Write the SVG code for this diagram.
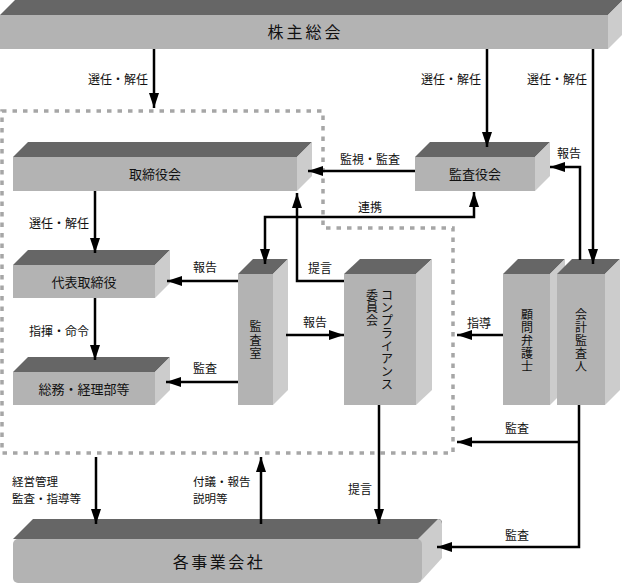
<svg xmlns="http://www.w3.org/2000/svg" width="622" height="584" viewBox="0 0 622 584">
<style>
.top{fill:#666666}
.front{fill:#b3b3b3}
.side{fill:#cccccc}
text{font-family:"Noto Sans CJK JP","Noto Sans",sans-serif;fill:#111}
.lbl{font-size:12px}
.lbl2{font-size:11.5px}
.box{font-size:13px}
.big{font-size:16px}
.vt{font-size:12px;text-anchor:middle}
.conn{stroke:#000;stroke-width:2.5;fill:none}
.dash{stroke:#a6a6a6;stroke-width:3.5;fill:none;stroke-dasharray:4.5 6}
</style>
<defs>
<marker id="ah" markerUnits="userSpaceOnUse" markerWidth="15" markerHeight="10" refX="15" refY="5" orient="auto-start-reverse" viewBox="0 0 15 10">
<path d="M0,0 L15,5 L0,10 z" fill="#000"/>
</marker>
</defs>

<rect width="622" height="584" fill="#fff"/>

<path id="group-boundary" class="dash" d="M2,111 H323 V228 H453 V453 H2 Z"/>

<g id="n-kabunushi">
<polygon class="top" points="0,15 15,0 623,0 608,15"/>
<rect class="front" x="0" y="15" width="608" height="34"/>
<polygon class="side" points="608,15 623,0 623,34 608,49"/>
<text class="big" x="305.5" y="38" text-anchor="middle" letter-spacing="3">株主総会</text>
</g>

<g id="n-torishimariyakukai">
<polygon class="top" points="13,157 28,142 312,142 297,157"/>
<rect class="front" x="13" y="157" width="284" height="34"/>
<polygon class="side" points="297,157 312,142 312,176 297,191"/>
<text class="box" x="155" y="179" text-anchor="middle">取締役会</text>
</g>

<g id="n-daihyo">
<polygon class="top" points="13,265 28,250 170,250 155,265"/>
<rect class="front" x="13" y="265" width="142" height="33"/>
<polygon class="side" points="155,265 170,250 170,283 155,298"/>
<text class="box" x="84" y="286.5" text-anchor="middle">代表取締役</text>
</g>

<g id="n-somu">
<polygon class="top" points="13,372 28,357 170,357 155,372"/>
<rect class="front" x="13" y="372" width="142" height="33"/>
<polygon class="side" points="155,372 170,357 170,390 155,405"/>
<text class="box" x="84" y="393.5" text-anchor="middle">総務・経理部等</text>
</g>

<g id="n-kansashitsu">
<polygon class="top" points="238,274 253,259 288,259 273,274"/>
<rect class="front" x="238" y="274" width="35" height="131"/>
<polygon class="side" points="273,274 288,259 288,390 273,405"/>
<text class="vt" x="255.5 255.5 255.5" y="331 344.5 358">監査室</text>
</g>

<g id="n-compliance">
<polygon class="top" points="344,274 360,259 432,259 416,274"/>
<rect class="front" x="344" y="274" width="72" height="131"/>
<polygon class="side" points="416,274 432,259 432,390 416,405"/>
<text class="vt" x="387 387 387 387 387 387 387 387" y="299.5 312.2 325 337.7 350.5 363.2 376 388.7">コンプライアンス</text>
<text class="vt" x="372 372 372" y="299.5 312.2 325">委員会</text>
</g>

<g id="n-kansayakukai">
<polygon class="top" points="415,157 430,142 550,142 535,157"/>
<rect class="front" x="415" y="157" width="120" height="34"/>
<polygon class="side" points="535,157 550,142 550,176 535,191"/>
<text class="box" x="475" y="179" text-anchor="middle">監査役会</text>
</g>

<g id="n-komon">
<polygon class="top" points="503,274 518,259 565,259 550,274"/>
<rect class="front" x="503" y="274" width="47" height="131"/>
<polygon class="side" points="550,274 565,259 565,390 550,405"/>
<text class="vt" x="527 527 527 527 527" y="318.5 331.5 344.5 357.5 370.5">顧問弁護士</text>
</g>

<g id="n-kaikei">
<polygon class="top" points="557,274 572,259 620,259 605,274"/>
<rect class="front" x="557" y="274" width="48" height="131"/>
<polygon class="side" points="605,274 620,259 620,390 605,405"/>
<text class="vt" x="581 581 581 581 581" y="318.5 331.5 344.5 357.5 370.5">会計監査人</text>
</g>

<g id="n-jigyogaisha">
<path class="top" d="M13,539 L33,519 H438 Q442,519 442,523 L422,543 Z"/>
<path class="side" d="M418,539 L438,519 Q442,519 442,525 V558 L422,580 Z"/>
<rect class="front" x="13" y="539" width="409" height="44" rx="5"/>
<text class="big" x="219" y="568" text-anchor="middle" letter-spacing="2.5">各事業会社</text>
</g>

<g id="connectors">
<path class="conn" marker-end="url(#ah)" d="M154,49 V108"/>
<path class="conn" marker-end="url(#ah)" d="M487,49 V147"/>
<path class="conn" marker-end="url(#ah)" d="M593,49 V264"/>
<path class="conn" marker-end="url(#ah)" d="M415,171 H308"/>
<path class="conn" marker-start="url(#ah)" marker-end="url(#ah)" d="M265,264 V217 H474 V192"/>
<path class="conn" marker-end="url(#ah)" d="M344,281 H297 V193"/>
<path class="conn" marker-end="url(#ah)" d="M95,191 V253"/>
<path class="conn" marker-end="url(#ah)" d="M95,298 V360"/>
<path class="conn" marker-end="url(#ah)" d="M238,281 H167"/>
<path class="conn" marker-end="url(#ah)" d="M238,382 H166"/>
<path class="conn" marker-end="url(#ah)" d="M286,335 H344"/>
<path class="conn" marker-end="url(#ah)" d="M580,260 V167 H550"/>
<path class="conn" marker-end="url(#ah)" d="M503,335 H457"/>
<path class="conn" marker-end="url(#ah)" d="M579,405 V547 H437"/>
<path class="conn" marker-end="url(#ah)" d="M579,442 H457"/>
<path class="conn" marker-end="url(#ah)" d="M379,405 V524"/>
<path class="conn" marker-end="url(#ah)" d="M96,457 V524"/>
<path class="conn" marker-end="url(#ah)" d="M261,524 V457"/>
</g>

<g id="labels">
<text class="lbl" x="148" y="83.5" text-anchor="end">選任・解任</text>
<text class="lbl" x="481" y="83.5" text-anchor="end">選任・解任</text>
<text class="lbl" x="587" y="83.5" text-anchor="end">選任・解任</text>
<text class="lbl" x="89" y="227.5" text-anchor="end">選任・解任</text>
<text class="lbl" x="89" y="335.5" text-anchor="end">指揮・命令</text>
<text class="lbl" x="205" y="271.5" text-anchor="middle">報告</text>
<text class="lbl" x="205" y="372.5" text-anchor="middle">監査</text>
<text class="lbl" x="320" y="272.5" text-anchor="middle">提言</text>
<text class="lbl" x="315" y="326.5" text-anchor="middle">報告</text>
<text class="lbl" x="370" y="163.5" text-anchor="middle">監視・監査</text>
<text class="lbl" x="370" y="211.5" text-anchor="middle">連携</text>
<text class="lbl" x="569" y="157.5" text-anchor="middle">報告</text>
<text class="lbl" x="479" y="327.5" text-anchor="middle">指導</text>
<text class="lbl" x="517" y="432.5" text-anchor="middle">監査</text>
<text class="lbl" x="517" y="539.5" text-anchor="middle">監査</text>
<text class="lbl" x="360" y="493.5" text-anchor="middle">提言</text>
<text class="lbl2" x="12" y="485.5">経営管理</text>
<text class="lbl2" x="12" y="502.5">監査・指導等</text>
<text class="lbl2" x="193" y="485.5">付議・報告</text>
<text class="lbl2" x="193" y="502.5">説明等</text>
</g>
</svg>
